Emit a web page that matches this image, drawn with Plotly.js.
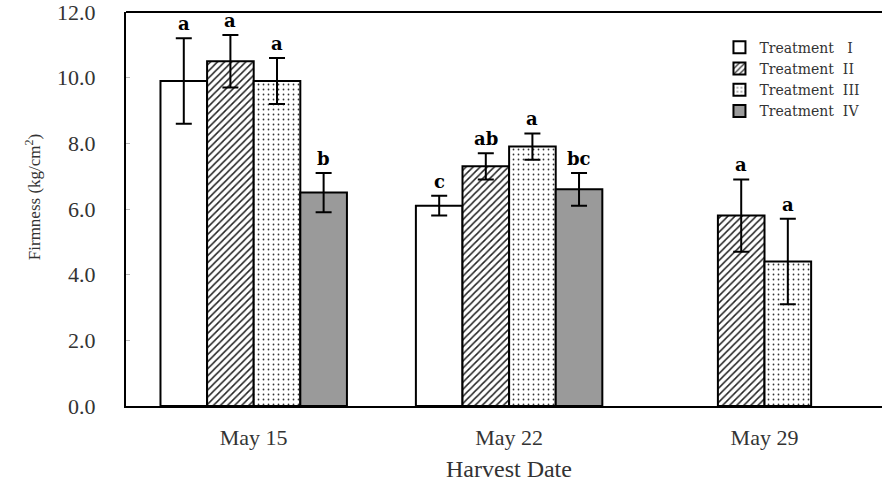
<!DOCTYPE html>
<html><head><meta charset="utf-8">
<script src="https://cdn.plot.ly/plotly-3.0.1.min.js"></script>
<style>html,body{margin:0;padding:0;background:#fff;overflow:hidden}</style>
</head><body><div id="chart" style="width:882px;height:486px"></div>
<script>
const dates = ['May 15', 'May 22', 'May 29'];
const seriesNames = ['Treatment\u00a0\u00a0\u00a0I', 'Treatment\u00a0\u00a0II', 'Treatment\u00a0\u00a0III', 'Treatment\u00a0\u00a0IV'];
const treatment1 = [9.9, 6.1, null];
const treatment2 = [10.5, 7.3, 5.8];
const treatment3 = [9.9, 7.9, 4.4];
const treatment4 = [6.5, 6.6, null];
const error1 = [1.3, 0.3, null];
const error2 = [0.8, 0.4, 1.1];
const error3 = [0.7, 0.4, 1.3];
const error4 = [0.6, 0.5, null];
const letters1 = ['a', 'c', null];
const letters2 = ['a', 'ab', 'a'];
const letters3 = ['a', 'a', 'a'];
const letters4 = ['b', 'bc', null];
const yTicks = [0, 2, 4, 6, 8, 10, 12];

const values = [treatment1, treatment2, treatment3, treatment4];
const errors = [error1, error2, error3, error4];
const letters = [letters1, letters2, letters3, letters4];
const styles = [
  {color: '#ffffff', pattern: {shape: ''}},
  {color: '#ffffff', pattern: {shape: '/', fgcolor: '#222', bgcolor: '#fff', size: 5, solidity: 0.3}},
  {color: '#ffffff', pattern: {shape: '.', fgcolor: '#333', bgcolor: '#fff', size: 5, solidity: 0.1}},
  {color: '#9a9a9a', pattern: {shape: ''}}
];
const bargap = 0.27;
const slot = (1 - bargap) / values.length;

const traces = values.map((v, i) => ({
  type: 'bar', name: seriesNames[i], x: dates, y: v,
  marker: {color: styles[i].color, pattern: styles[i].pattern, line: {color: '#000', width: 2}},
  error_y: {type: 'data', array: errors[i], visible: true, color: '#000', thickness: 2, width: 8}
}));

const annotations = [];
values.forEach((v, i) => {
  v.forEach((val, j) => {
    if (val == null || letters[i][j] == null) return;
    annotations.push({
      x: j + (i - (values.length - 1) / 2) * slot, xref: 'x',
      y: val + errors[i][j], yref: 'y', yanchor: 'bottom', yshift: 2,
      text: letters[i][j], showarrow: false,
      font: {family: 'DejaVu Serif', size: 18, color: '#000', weight: 'bold'}
    });
  });
});
annotations.push({
  x: 1, xref: 'x', y: -0.16, yref: 'paper', yanchor: 'middle', xanchor: 'center',
  text: 'Harvest Date', showarrow: false,
  font: {family: 'Liberation Serif', size: 24, color: '#333'}
});
annotations.push({
  x: -0.123, xref: 'paper', y: 0.53, yref: 'paper', textangle: -90, xanchor: 'center', yanchor: 'middle',
  text: 'Firmness (kg/cm<sup>2</sup>)', showarrow: false,
  font: {family: 'Liberation Serif', size: 17, color: '#333'}
});

const layout = {
  width: 882, height: 486,
  margin: {l: 126, r: 0, t: 12, b: 80},
  paper_bgcolor: '#fff', plot_bgcolor: '#fff',
  barmode: 'group', bargap: bargap, bargroupgap: 0,
  showlegend: true,
  legend: {x: 0.785, y: 0.95, xanchor: 'left', yanchor: 'top',
    font: {family: 'DejaVu Serif', size: 14, color: '#333'}, bgcolor: 'rgba(0,0,0,0)', itemwidth: 30},
  xaxis: {range: [-0.5, 2.46], showline: true, linecolor: '#000', linewidth: 2,
    ticks: 'outside', ticklen: 0, ticklabelstandoff: 11, showgrid: false, zeroline: false,
    tickfont: {family: 'Liberation Serif', size: 22, color: '#333'}},
  yaxis: {range: [0, 12], tickvals: yTicks, tickformat: '.1f', showline: true, linecolor: '#000', linewidth: 2,
    ticks: 'inside', ticklen: 4, tickcolor: '#bbb', ticklabelstandoff: 24, showgrid: false, zeroline: false,
    ticklabeloverflow: 'allow', automargin: false,
    tickfont: {family: 'Liberation Serif', size: 22, color: '#333'}},
  shapes: [{type: 'line', xref: 'paper', yref: 'paper', x0: 0, x1: 1, y0: 1, y1: 1, line: {color: '#000', width: 2}}],
  annotations: annotations
};
Plotly.newPlot('chart', traces, layout, {displayModeBar: false, staticPlot: true});
</script></body></html>
